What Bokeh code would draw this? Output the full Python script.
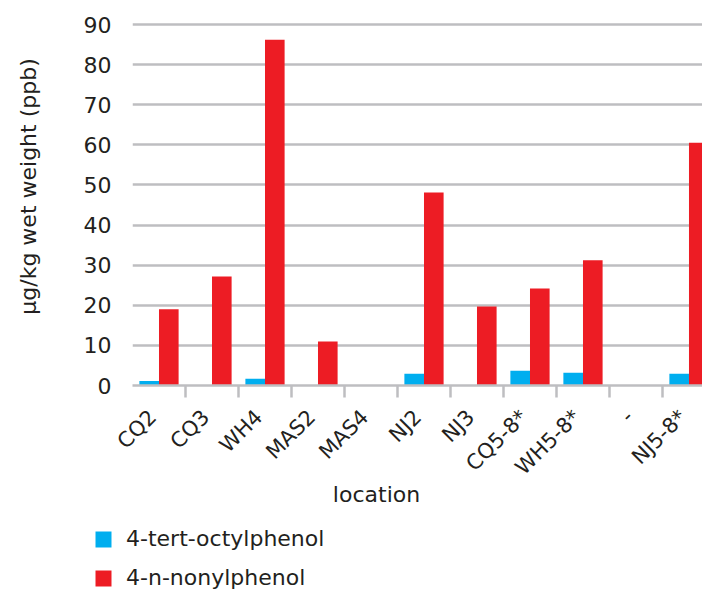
from math import pi
import numpy as np
from bokeh.plotting import figure
from bokeh.layouts import column, row
from bokeh.models import Range1d, FixedTicker, Legend, LegendItem, Label
from bokeh.embed import file_html
from bokeh.resources import INLINE

# ---- data ----
locations = ["CQ2", "CQ3", "WH4", "MAS2", "MAS4", "NJ2", "NJ3",
             "CQ5-8*", "WH5-8*", "-", "NJ5-8*"]
octylphenol = [1.1, 0.0, 1.7, 0.0, 0.0, 2.9, 0.0, 3.7, 3.2, 0.0, 2.9]
nonylphenol = [19.0, 27.2, 86.2, 11.0, 0.0, 48.1, 19.7, 24.2, 31.2, 0.0, 60.5]
y_ticks = [0, 10, 20, 30, 40, 50, 60, 70, 80, 90]
series_names = ["4-tert-octylphenol", "4-n-nonylphenol"]
x_title = "location"
y_title = "µg/kg wet weight (ppb)"

# ---- style ----
BLUE = "#00aeef"
RED = "#ed1c24"
GRID = "#bebec1"
TXT = "#231f20"
FONT = "DejaVu Sans"
FS = "22px"

W, H = 702, 590
W_L = 46            # strip holding the y-axis title
H_MAIN = 490        # main chart height
OV = 14             # overlap of bottom strip onto main chart's empty margin

n = len(locations)
centers = np.arange(n) + 0.5
boundaries = list(range(1, n))
bw = 0.37
label_pos = centers - 0.12   # rotated labels end just left of the group centre


def strip(width, height):
    f = figure(width=width, height=height, x_range=Range1d(0, width),
               y_range=Range1d(0, height), output_backend="svg",
               toolbar_location=None, min_border=0,
               x_axis_location=None, y_axis_location=None)
    f.outline_line_color = None
    f.grid.visible = False
    f.background_fill_alpha = 0
    f.border_fill_alpha = 0
    return f


# ---- main chart ----
p = figure(width=W - W_L, height=H_MAIN,
           x_range=Range1d(0, 10.755), y_range=Range1d(0, 91),
           output_backend="svg", toolbar_location=None,
           min_border_left=132 - W_L, min_border_right=0,
           min_border_top=20, min_border_bottom=H_MAIN - 386)
p.outline_line_color = None

r1 = p.vbar(x=centers - bw / 2, top=octylphenol, width=bw,
            fill_color=BLUE, line_color=None)
r2 = p.vbar(x=centers + bw / 2, top=nonylphenol, width=bw,
            fill_color=RED, line_color=None)

p.xgrid.visible = False
p.ygrid.ticker = FixedTicker(ticks=y_ticks)
p.ygrid.grid_line_color = GRID
p.ygrid.grid_line_width = 2.5

p.yaxis.ticker = FixedTicker(ticks=y_ticks)
p.yaxis.axis_line_color = None
p.yaxis.major_tick_line_color = None
p.yaxis.minor_tick_line_color = None
p.yaxis.major_label_standoff = 15
p.yaxis.major_label_text_font = FONT
p.yaxis.major_label_text_font_size = FS
p.yaxis.major_label_text_color = TXT

p.xaxis.ticker = FixedTicker(ticks=list(label_pos), minor_ticks=boundaries)
p.xaxis.major_label_overrides = {float(c): lab for c, lab in zip(label_pos, locations)}
p.xaxis.major_tick_line_color = None
p.xaxis.major_tick_out = 0
p.xaxis.major_tick_in = 0
p.xaxis.minor_tick_line_color = GRID
p.xaxis.minor_tick_line_width = 2.5
p.xaxis.minor_tick_out = 12
p.xaxis.minor_tick_in = 0
p.xaxis.axis_line_color = GRID
p.xaxis.axis_line_width = 2.5
p.xaxis.major_label_orientation = pi / 4
p.xaxis.major_label_standoff = 16
p.xaxis.major_label_text_font = FONT
p.xaxis.major_label_text_font_size = "21px"
p.xaxis.major_label_text_color = TXT

# ---- left strip: y-axis title ----
left = strip(W_L, H)
left.add_layout(Label(x=28, y=H - 186, text=y_title, angle=pi / 2,
                      text_align="center", text_baseline="middle",
                      text_font=FONT, text_font_size=FS, text_color=TXT))

# ---- bottom strip: x-axis title + legend ----
H_LEG = H - H_MAIN + OV
q = strip(W - W_L, H_LEG)
q.margin = (-OV, 0, 0, 0)
k1 = q.vbar(x=centers - bw / 2, top=octylphenol, width=bw,
            fill_color=BLUE, line_color=None, visible=False)
k2 = q.vbar(x=centers + bw / 2, top=nonylphenol, width=bw,
            fill_color=RED, line_color=None, visible=False)
q.add_layout(Label(x=376 - W_L, y=H - 494, text=x_title,
                   text_align="center", text_baseline="middle",
                   text_font=FONT, text_font_size=FS, text_color=TXT))
legend = Legend(items=[LegendItem(label=series_names[0], renderers=[k1]),
                       LegendItem(label=series_names[1], renderers=[k2])],
                location=(93 - W_L, 0), orientation="vertical",
                glyph_width=20, glyph_height=20, label_height=20,
                label_standoff=13, spacing=14, padding=0, margin=0,
                border_line_color=None, background_fill_alpha=0,
                label_text_font=FONT, label_text_font_size=FS,
                label_text_color=TXT)
q.add_layout(legend)

for fig in (p, q, left):
    if "frame_align" in fig.properties():
        fig.frame_align = False

layout = row(left, column(p, q))
open("out.html", "w").write(file_html(layout, INLINE))
